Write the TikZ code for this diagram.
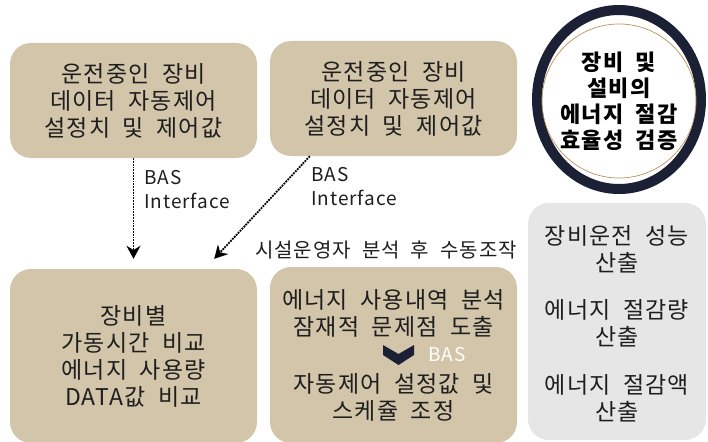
\documentclass[tikz,border=0pt]{standalone}
\usepackage{fontspec}
\setmainfont[WordSpace=2,LetterSpace=5]{Noto Sans CJK KR}
\usepackage{tikz}
\usetikzlibrary{arrows.meta,shapes,positioning,calc}
\usepackage{xcolor}
\definecolor{TanB}   {RGB}{210, 197, 170}
\definecolor{GrayL}  {RGB}{230, 230, 230}
\definecolor{NavyD}  {RGB}{ 27,  32,  52}
\definecolor{GoldR}  {RGB}{186, 146,  88}
\definecolor{InkD}   {RGB}{ 30,  30,  30}

\begin{document}
\begin{tikzpicture}[x=1pt,y=-1pt,
    box/.style={fill=TanB,rounded corners=21pt,align=center,text=InkD,
      font=\fontsize{23}{27}\selectfont,inner sep=0pt},
    lbl/.style={align=left,text=InkD,font=\fontsize{19}{24}\selectfont,inner sep=0pt},
    bas/.style={densely dotted,line width=1.8pt,-{Stealth[length=13pt,width=14pt]}}]
  \useasboundingbox (0,0) rectangle (708,441);
  % source data boxes
  \node[box,minimum width=247pt,minimum height=115pt] (srcA) at (133.5,100.5)
    {운전중인 장비\\데이터 자동제어\\설정치 및 제어값};
  \node[box,minimum width=247pt,minimum height=115pt] (srcB) at (393.5,98.5)
    {운전중인 장비\\데이터 자동제어\\설정치 및 제어값};
  % goal circle
  \draw[NavyD,line width=10pt] (619,99.5) ellipse (82 and 89.5);
  \draw[GoldR,line width=0.7pt] (619,101) circle (77);
  \node[align=center,font=\fontsize{22}{26}\bfseries\selectfont,inner sep=0pt]
    (goal) at (619,101.5) {장비 및\\설비의\\에너지 절감\\효율성 검증};
  % lower boxes
  \node[box,minimum width=247pt,minimum height=174pt] (cmp) at (133.5,356)
    {장비별\\가동시간 비교\\에너지 사용량\\DATA값 비교};
  \node[box,minimum width=247pt,minimum height=176pt] (adj) at (393.5,355) {};
  \node[box] (adjTop) at (393.5,313.5) {에너지 사용내역 분석\\잠재적 문제점 도출};
  \node[box] (adjBot) at (393.5,397.5) {자동제어 설정값 및\\스케쥴 조정};
  \fill[NavyD] (383,345) -- (398.5,354) -- (414,345) -- (414,355)
    -- (398.5,365) -- (383,355) -- cycle;
  \node[text=white,font=\fontsize{19}{20}\selectfont,anchor=west,inner sep=0pt]
    (adjBas) at (428,355) {BAS};
  % results
  \node[box,fill=GrayL,minimum width=178pt,minimum height=237pt] (res) at (617,321.5) {};
  \foreach \i/\y/\t in {1/249.5/장비운전 성능,2/323.5/에너지 절감량,3/398.5/에너지 절감액}{
    \node[box,fill=none] (res\i) at (617,\y) {\t\\산출};}
  % interfaces
  \draw[bas] (srcA.south) -- ([yshift=10pt]cmp.north);
  \draw[bas] ([xshift=40pt]srcB.south west) -- ([xshift=-43pt,yshift=10pt]cmp.north east);
  \node[lbl,anchor=north west] (basA) at (144,170) {BAS\\Interface};
  \node[lbl,anchor=north west] (basB) at (311,167) {BAS\\Interface};
  \node[lbl,font=\fontsize{20}{24}\selectfont] (manual) at (386,250) {시설운영자 분석 후 수동조작};
\end{tikzpicture}
\end{document}
